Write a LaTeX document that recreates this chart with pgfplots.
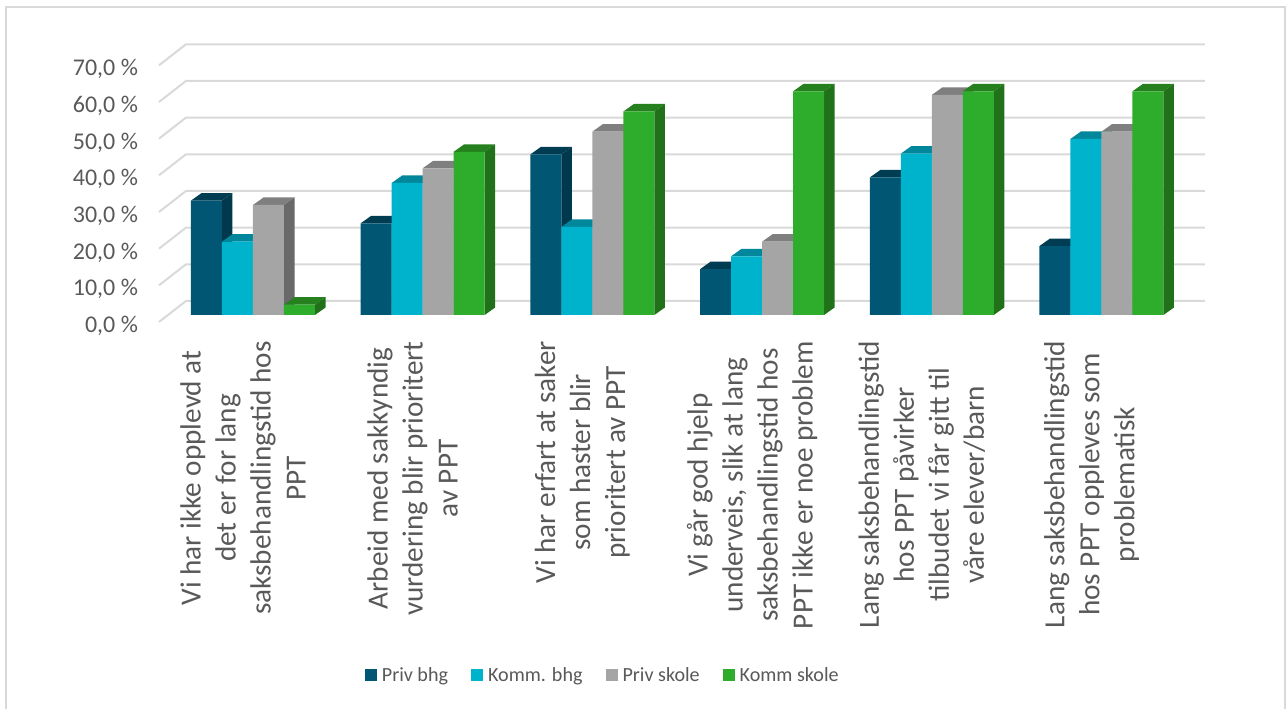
\documentclass[border=0pt]{standalone}
\usepackage{pgfplots}
\usepackage{pgfplotstable}
\usepackage{fontspec}
\setmainfont{Carlito}
\pgfplotsset{compat=1.18}

\definecolor{txt}{HTML}{595959}
\definecolor{gridc}{HTML}{D9D9D9}
\definecolor{pb}{HTML}{005673}
\definecolor{pbtop}{HTML}{003D52}
\definecolor{pbside}{HTML}{00394D}
\definecolor{kb}{HTML}{00B3CC}
\definecolor{kbtop}{HTML}{00879B}
\definecolor{kbside}{HTML}{007F90}
\definecolor{ps}{HTML}{A5A5A5}
\definecolor{pstop}{HTML}{7F7F7F}
\definecolor{psside}{HTML}{696969}
\definecolor{ks}{HTML}{2EAC2B}
\definecolor{kstop}{HTML}{26801E}
\definecolor{ksside}{HTML}{20711A}

\pgfplotstableread{
cat  pb   kb   ps   ks
0    31.2 20.0 30.0 2.8
1    25.0 36.0 40.0 44.5
2    43.8 24.0 50.0 55.5
3    12.5 16.0 20.0 61.0
4    37.5 44.0 60.0 61.0
5    18.8 48.0 50.0 61.0
}\data

% 1px = 1pt, so 169.7 px per category and 3.667 px per percent
\newcommand\barwd{0.1827}  % bar width
\newcommand\depx{0.0619}   % bar depth, 10.5 px
\newcommand\depy{2.045}    % bar depth, 7.5 px

% series: column, position in the group, bar shift
\newcommand\series[3]{%
  \pgfplotsforeachungrouped \r in {0,...,5}{%
    \pgfplotstablegetelem{\r}{#1}\of\data
    \let\val\pgfplotsretval
    \pgfmathsetmacro\xl{\r+(#2-2)*\barwd}
    \pgfmathsetmacro\xr{\xl+\barwd}
    \pgfmathsetmacro\xlb{\xl+\depx}
    \pgfmathsetmacro\xrb{\xr+\depx}
    \pgfmathsetmacro\yb{\val+\depy}
    \addplot[fill=#1top,draw=none,forget plot] coordinates {(\xl,\val) (\xr,\val) (\xrb,\yb) (\xlb,\yb)} -- cycle;
    \addplot[fill=#1side,draw=none,forget plot] coordinates {(\xr,0) (\xr,\val) (\xrb,\yb) (\xrb,\depy)} -- cycle;
  }
  \addplot[ybar,bar width=31pt,bar shift=#3,fill=#1,draw=none,forget plot] table[x=cat,y=#1]{\data};
}

\begin{document}
\begin{tikzpicture}
\useasboundingbox (0,0) rectangle (1286pt,709pt);
\draw[gridc,line width=2pt] (6pt,-5pt) -- (6pt,701.5pt) -- (1285pt,701.5pt) -- (1285pt,-5pt);

\begin{axis}[
  at={(168.15pt,394pt)},
  anchor=south west,
  scale only axis,
  width=1018.2pt,
  height=256.7pt,
  xmin=-0.5, xmax=5.5,
  ymin=0, ymax=70,
  clip=false,
  axis line style={draw=none},
  major tick length=0pt,
  ytick={0,10,...,70},
  yticklabels={{0,0 \%},{10,0 \%},{20,0 \%},{30,0 \%},{40,0 \%},{50,0 \%},{60,0 \%},{70,0 \%}},
  yticklabel style={font=\fontsize{24}{28}\selectfont,text=txt,inner sep=0pt,anchor=east,xshift=-30pt,yshift=-11pt},
  xtick={0,...,5},
  xticklabels={
    {Vi har ikke opplevd at\\det er for lang\\saksbehandlingstid hos\\PPT},
    {Arbeid med sakkyndig\\vurdering blir prioritert\\av PPT},
    {Vi har erfart at saker\\som haster blir\\prioritert av PPT},
    {Vi går god hjelp\\underveis, slik at lang\\saksbehandlingstid hos\\PPT ikke er noe problem},
    {Lang saksbehandlingstid\\hos PPT påvirker\\tilbudet vi får gitt til\\våre elever/barn},
    {Lang saksbehandlingstid\\hos PPT oppleves som\\problematisk}},
  xticklabel style={font=\fontsize{29.2}{35}\selectfont,text=txt,rotate=90,anchor=east,align=center,inner sep=0pt,xshift=-26pt,yshift=10pt},
  legend image code/.code={\path[#1,draw=none] (0pt,-6pt) rectangle (12pt,6pt);},
  legend style={at={(axis cs:2.061,-98.2)},anchor=center,draw=none,fill=none,
    font=\fontsize{20.1}{25}\selectfont,text=txt,legend columns=4,
    /tikz/every odd column/.append style={column sep=3pt},
    /tikz/every even column/.append style={column sep=21pt}},
]
% walls
\pgfplotsforeachungrouped \v in {0,10,...,70}{%
  \pgfmathsetmacro\yf{\v-1.909}
  \pgfmathsetmacro\yk{\v+3.818}
  \addplot[gridc,line width=2pt,forget plot] coordinates {(-0.554,\yf) (-0.395,\yk) (5.610,\yk)};
}
\series{pb}{0}{-46.5pt}
\series{kb}{1}{-15.5pt}
\series{ps}{2}{15.5pt}
\series{ks}{3}{46.5pt}
\addlegendimage{fill=pb}
\addlegendimage{fill=kb}
\addlegendimage{fill=ps}
\addlegendimage{fill=ks}
\legend{Priv bhg,Komm. bhg,Priv skole,Komm skole}
\end{axis}
\end{tikzpicture}
\end{document}
